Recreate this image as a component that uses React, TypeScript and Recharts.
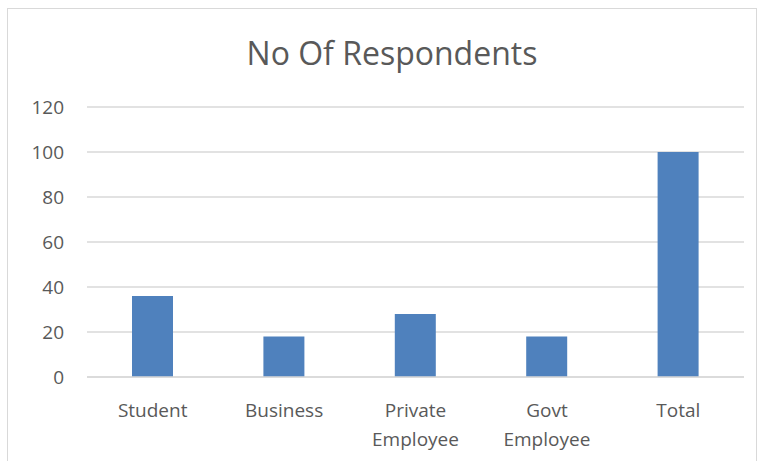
import React from 'react';
import { BarChart, Bar, XAxis, YAxis, CartesianGrid } from 'recharts';

const categories = ['Student', 'Business', 'Private Employee', 'Govt Employee', 'Total'];
const respondents = [36, 18, 28, 18, 100];
const yTicks = [0, 20, 40, 60, 80, 100, 120];

const data = categories.map((name, i) => ({ name, value: respondents[i] }));

const FONT = '"Open Sans", "Liberation Sans", sans-serif';
const GREY = '#595959';

// splits the two-word labels onto two lines like the original
const CategoryTick = (props: any) => {
    const { x, y, payload } = props;
    const words = String(payload.value).split(' ');
    return (
        <text x={x} y={y} textAnchor="middle" fill={GREY} fontFamily={FONT} fontSize={19}>
            {words.map((w: string, i: number) => (
                <tspan key={i} x={x} dy={i === 0 ? 32 : 29}>{w}</tspan>
            ))}
        </text>
    );
};

export default function App() {
    return (
        <div style={{ position: 'absolute', left: 0, top: 0, width: 759, height: 461, background: '#fff' }}>
            <div style={{ position: 'absolute', left: 7, top: 8, width: 750, height: 470, border: '1px solid #d9d9d9', boxSizing: 'border-box' }} />
            <div style={{ position: 'absolute', left: 0, top: 31, width: 759, textAlign: 'center', paddingLeft: 25, boxSizing: 'border-box', fontFamily: FONT, fontSize: 32, color: GREY }}>
                No Of Respondents
            </div>
            <BarChart
                width={759}
                height={461}
                data={data}
                margin={{ top: 107, right: 15, bottom: 0, left: 0 }}
                barSize={41}
                style={{ position: 'absolute', left: 0, top: 0 }}
            >
                <CartesianGrid vertical={false} stroke="#d9d9d9" strokeWidth={1.5} />
                <XAxis
                    dataKey="name"
                    height={84}
                    axisLine={{ stroke: '#d9d9d9', strokeWidth: 1.5 }}
                    tickLine={false}
                    interval={0}
                    tick={<CategoryTick />}
                />
                <YAxis
                    width={87}
                    domain={[0, 120]}
                    ticks={yTicks}
                    axisLine={false}
                    tickLine={false}
                    tickSize={0}
                    tickMargin={23}
                    tick={{ fill: GREY, fontFamily: FONT, fontSize: 19 }}
                />
                <Bar dataKey="value" fill="#4f81bd" isAnimationActive={false} />
            </BarChart>
        </div>
    );
}
